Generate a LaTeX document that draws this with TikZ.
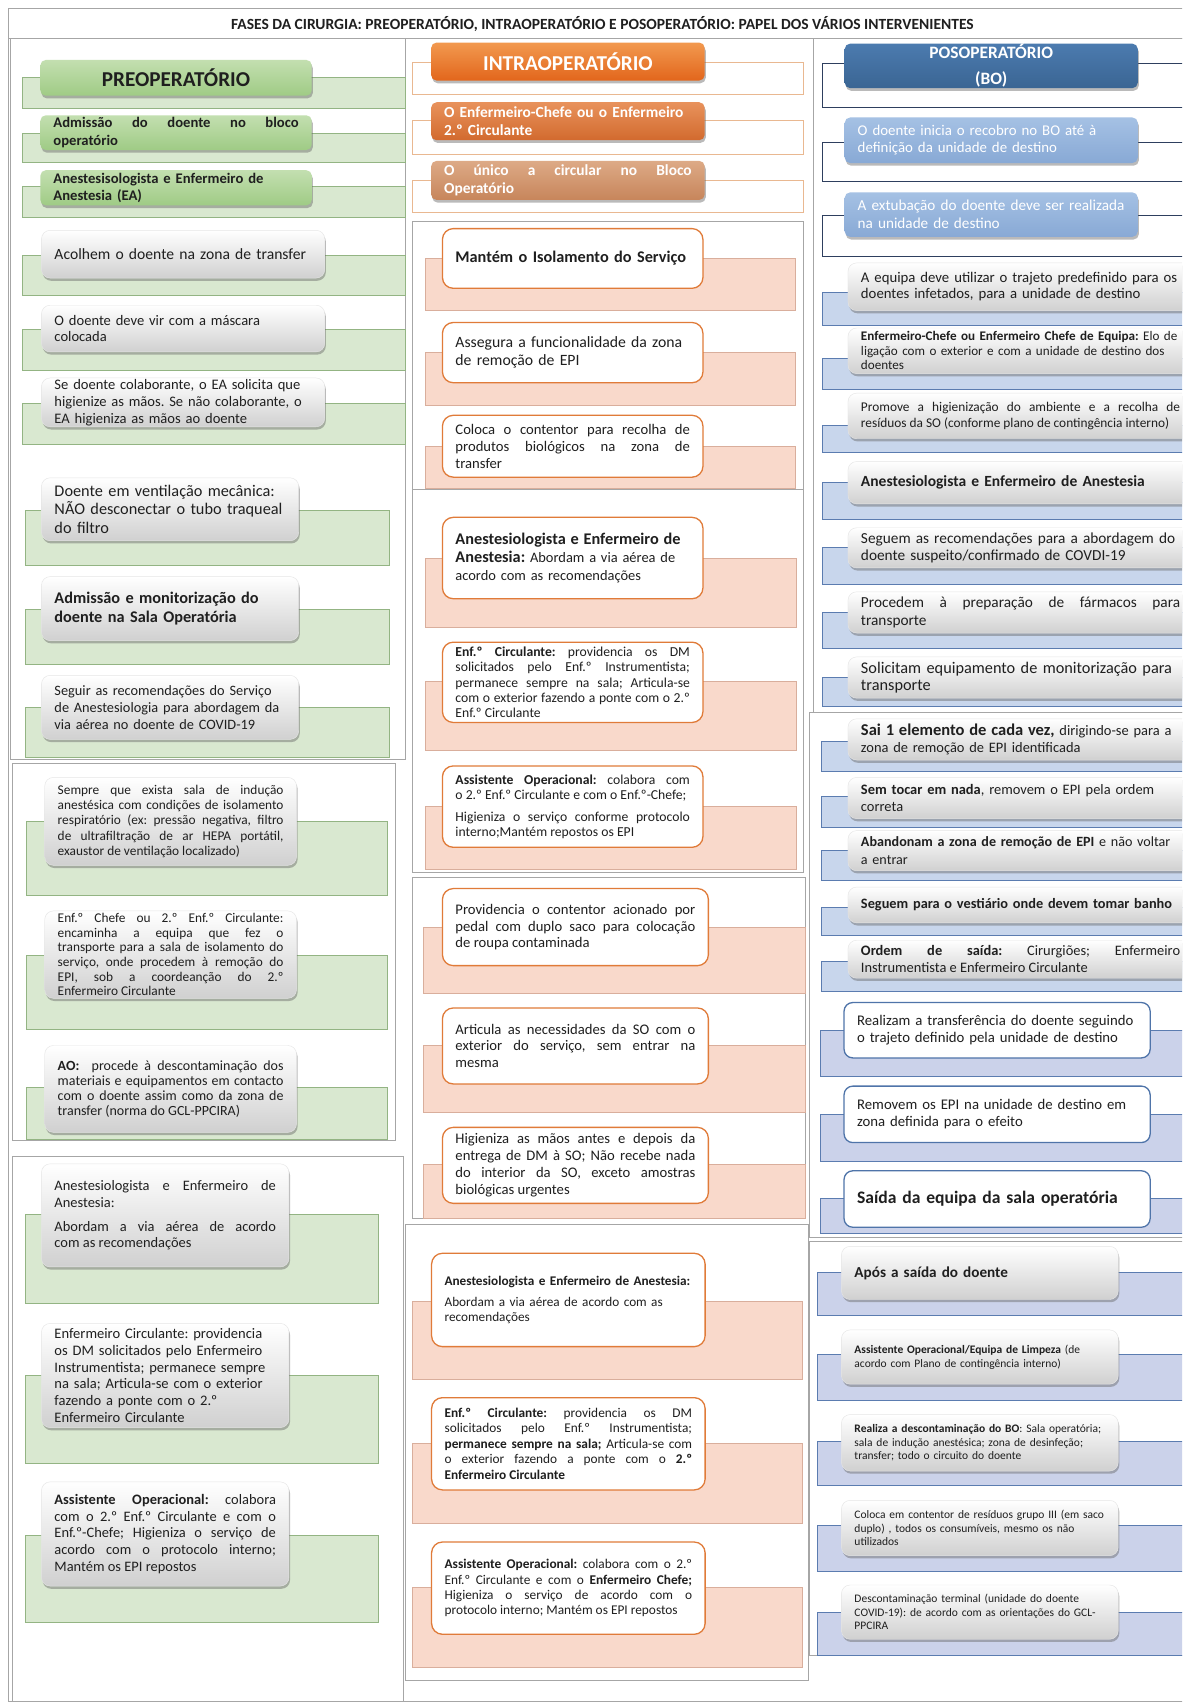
\documentclass[tikz,border=0pt]{standalone}
\usepackage{fontspec}
\setmainfont{Carlito}
\usepackage{tikz}
\usetikzlibrary{shadows}
\definecolor{ink}{HTML}{1F1F1F}
\definecolor{rulegray}{HTML}{A6A6A6}
\definecolor{leaftop}{HTML}{C3DFB0}
\definecolor{leafbot}{HTML}{9FCB85}
\definecolor{leafband}{HTML}{D9E8D0}
\definecolor{leafline}{HTML}{93B483}
\definecolor{softgray}{HTML}{D0D0D0}
\definecolor{embertop}{HTML}{F2994F}
\definecolor{emberbot}{HTML}{E2661C}
\definecolor{rusttop}{HTML}{E8925C}
\definecolor{rustbot}{HTML}{D26A2E}
\definecolor{tantop}{HTML}{DDAA86}
\definecolor{tanbot}{HTML}{C7855B}
\definecolor{peachline}{HTML}{E9B891}
\definecolor{salmon}{HTML}{F9D9CB}
\definecolor{salmonline}{HTML}{D9AE9C}
\definecolor{emberedge}{HTML}{E07B39}
\definecolor{navytop}{HTML}{4C7BAF}
\definecolor{navybot}{HTML}{3A6593}
\definecolor{skytop}{HTML}{A5C1E4}
\definecolor{skybot}{HTML}{88A9D5}
\definecolor{navyline}{HTML}{2E3F5E}
\definecolor{iceband}{HTML}{C8D6EC}
\definecolor{iceline}{HTML}{5B7CB0}
\definecolor{lilac}{HTML}{CBD2EA}
\definecolor{steeledge}{HTML}{4F74A9}
\newcommand{\fsz}[2]{\fontsize{#1}{#2}\selectfont}
% box from (x1,y1) to (x2,y2): name, style, x1, y1, x2, y2, text
\newcommand{\cellbox}[7]{%
  \pgfmathsetmacro{\cbw}{#5-#3-24}%
  \pgfmathsetmacro{\cbh}{#6-#4}%
  \node[#2, text width=\cbw pt, minimum height=\cbh pt] (#1) at (#3,#4) {#7};}
\tolerance=10000
\hyphenpenalty=10000
\exhyphenpenalty=10000
\hbadness=10000
\frenchspacing
\begin{document}
\begin{tikzpicture}[x=1pt, y=-1pt,
  framed/.style={draw=rulegray, line width=0.7pt},
  leafrect/.style={fill=leafband, draw=leafline, line width=0.6pt},
  peachrect/.style={fill=white, draw=peachline, line width=0.6pt},
  salmonrect/.style={fill=salmon, draw=salmonline, line width=0.6pt},
  navyrect/.style={fill=white, draw=navyline, line width=0.6pt},
  icerect/.style={fill=iceband, draw=iceline, line width=0.6pt},
  lilacrect/.style={fill=lilac, draw=iceline, line width=0.6pt},
  cellbase/.style={anchor=north west, inner xsep=12pt, inner ysep=1pt, align=left, text=ink},
  lift/.style={drop shadow={shadow xshift=1pt, shadow yshift=-2.5pt, opacity=0.45, fill=black!60}},
  leafhead/.style={cellbase, lift, rounded corners=5pt, top color=leaftop, bottom color=leafbot},
  softbox/.style={cellbase, lift, rounded corners=8pt, draw=black!10, top color=white, bottom color=softgray},
  emberhead/.style={cellbase, lift, rounded corners=5pt, text=white, top color=embertop, bottom color=emberbot},
  rusthead/.style={cellbase, lift, rounded corners=5pt, text=white, top color=rusttop, bottom color=rustbot},
  tanhead/.style={cellbase, lift, rounded corners=5pt, text=white, top color=tantop, bottom color=tanbot},
  ovalbox/.style={cellbase, rounded corners=10pt, fill=white, draw=emberedge, line width=1.2pt},
  navyhead/.style={cellbase, lift, rounded corners=5pt, text=white, top color=navytop, bottom color=navybot},
  skyhead/.style={cellbase, lift, rounded corners=5pt, text=white, top color=skytop, bottom color=skybot},
  steelbox/.style={cellbase, rounded corners=8pt, fill=white, draw=steeledge, line width=1.2pt},
  title/.style={font=\fsz{14.3}{16}\bfseries, text=ink}]

  \useasboundingbox (0,0) rectangle (1089,1568);
  \clip (0,0) rectangle (1089,1568);
  \fill[white] (0,0) rectangle (1089,1568);

  % outer frame and title
  \draw[framed] (7.5,8) rectangle (1100,1567);
  \draw[framed] (7.5,35) -- (1100,35);
  \node[title] (title) at (555,22) {FASES DA CIRURGIA: PREOPERATÓRIO, INTRAOPERATÓRIO E POSOPERATÓRIO: PAPEL DOS VÁRIOS INTERVENIENTES};

  % column frames
  \draw[framed] (10,35) rectangle (373,700);
  \draw[framed] (11,703) rectangle (364,1051);
  \draw[framed] (11,1065) rectangle (372,1580);
  \draw[framed] (380,204) rectangle (740,450.5);
  \draw[framed] (380,451) rectangle (740,804);
  \draw[framed] (380,808) rectangle (742,1122.5);
  \draw[framed] (373,1128) rectangle (745,1548);
  \draw[framed] (749,35) rectangle (1100,656);
  \draw[framed] (746,656) rectangle (1100,1140);
  \draw[framed] (746,1144) rectangle (1100,1525);

  % preoperatório
  \path[leafrect] (21,71.5) rectangle (373,100);
  \cellbox{preHead}{leafhead, align=center, font=\fsz{19.5}{22}\bfseries}{37}{55}{287}{88}{PREOPERATÓRIO}
  \path[leafrect] (21,122.7) rectangle (373,150);
  \cellbox{preAdm}{leafhead, align=justify, font=\fsz{13.5}{16}\bfseries}{37}{106}{287}{138}{Admissão do doente no bloco\linebreak operatório}
  \path[leafrect] (21,172) rectangle (373,200);
  \cellbox{preTeam}{leafhead, font=\fsz{13.5}{16}\bfseries}{37}{156.6}{287}{189}{Anestesisologista e Enfermeiro de\\ Anestesia (EA)}
  \path[leafrect] (21,235) rectangle (373,272);
  \cellbox{preWelcome}{softbox, font=\fsz{14.4}{17}}{38}{212}{299}{256}{Acolhem o doente na zona de transfer}
  \path[leafrect] (21,303) rectangle (373,341);
  \cellbox{preMask}{softbox, font=\fsz{13.4}{15.5}}{38}{281}{299}{324}{O doente deve vir com a máscara\\ colocada}
  \path[leafrect] (21,372) rectangle (373,409);
  \cellbox{preHands}{softbox, font=\fsz{13.4}{15.5}}{38}{348}{299}{393}{Se doente colaborante, o EA solicita que\\ higienize as mãos. Se não colaborante, o\\ EA higieniza as mãos ao doente}
  \path[leafrect] (23,470.5) rectangle (359,520.6);
  \cellbox{preVent}{softbox, font=\fsz{15}{17}}{38}{440}{275}{498}{Doente em ventilação mecânica:\\ NÃO desconectar o tubo traqueal\\ do filtro}
  \path[leafrect] (23,561) rectangle (359,611.7);
  \cellbox{preRoom}{softbox, font=\fsz{15}{18}\bfseries}{38}{531}{275}{590}{Admissão e monitorização do\\ doente na Sala Operatória}
  \path[leafrect] (23,652) rectangle (359,698);
  \cellbox{preAirway}{softbox, font=\fsz{13.2}{15.5}}{38}{622}{275}{681}{Seguir as recomendações do Serviço\\ de Anestesiologia para abordagem da\\ via aérea no doente de COVID-19}

  \path[leafrect] (24.5,757) rectangle (357,824.6);
  \cellbox{preInduct}{softbox, align=justify, font=\fsz{12.3}{14}}{41}{716}{273}{797}{Sempre que exista sala de indução\linebreak anestésica com condições de isolamento\linebreak respiratório (ex: pressão negativa, filtro\linebreak de ultrafiltração de ar HEPA portátil,\linebreak exaustor de ventilação localizado)}
  \path[leafrect] (24.5,880) rectangle (357,948);
  \cellbox{preChief}{softbox, align=justify, font=\fsz{12.3}{13.4}}{41}{839}{273}{919.5}{Enf.º Chefe ou 2.º Enf.º Circulante:\linebreak encaminha a equipa que fez o\linebreak transporte para a sala de isolamento do\linebreak serviço, onde procedem à remoção do\linebreak EPI, sob a coordeanção do 2.º\linebreak Enfermeiro Circulante}
  \path[leafrect] (24.5,1002) rectangle (357,1050);
  \cellbox{preAO}{softbox, align=justify, font=\fsz{12.9}{13.8}}{41}{963}{273}{1043}{\textbf{AO:}\ \ procede à descontaminação dos\linebreak materiais e equipamentos em contacto\linebreak com o doente assim como da zona de\linebreak transfer (norma do GCL-PPCIRA)}

  \path[leafrect] (23,1119) rectangle (348.6,1201);
  \cellbox{preAnest}{softbox, align=justify, font=\fsz{13.3}{15}}{38}{1072}{266}{1167}{Anestesiologista e Enfermeiro de\linebreak Anestesia:\\[7pt] Abordam a via aérea de acordo\linebreak com as recomendações}
  \path[leafrect] (23,1267) rectangle (348.6,1348);
  \cellbox{preCirc}{softbox, font=\fsz{13.4}{15.4}}{38}{1219}{266}{1315}{Enfermeiro Circulante: providencia\\ os DM solicitados pelo Enfermeiro\\ Instrumentista; permanece sempre\\ na sala; Articula-se com o exterior\\ fazendo a ponte com o 2.º\\ Enfermeiro Circulante}
  \path[leafrect] (23,1414) rectangle (348.6,1495);
  \cellbox{preAssist}{softbox, align=justify, font=\fsz{13.3}{15.3}}{38}{1365}{266}{1461}{\textbf{Assistente Operacional:} colabora\linebreak com o 2.º Enf.º Circulante e com o\linebreak Enf.º-Chefe; Higieniza o serviço de\linebreak acordo com o protocolo interno;\linebreak Mantém os EPI repostos}

  % intraoperatório
  \path[peachrect] (380,57) rectangle (740,87);
  \cellbox{intraHead}{emberhead, align=center, font=\fsz{19.5}{22}\bfseries}{397}{39}{649}{74}{INTRAOPERATÓRIO}
  \path[peachrect] (380,110.5) rectangle (740,142);
  \cellbox{intraChief}{rusthead, font=\fsz{14.2}{17}\bfseries}{397}{94}{649}{129}{O Enfermeiro-Chefe ou o Enfermeiro\\ 2.º Circulante}
  \path[peachrect] (380,166) rectangle (740,196);
  \cellbox{intraOnly}{tanhead, align=justify, font=\fsz{14.2}{17}\bfseries}{397}{148}{649}{184}{O único a circular no Bloco\linebreak Operatório}

  \path[salmonrect] (391.5,238) rectangle (733,285.6);
  \cellbox{intraIsol}{ovalbox, font=\fsz{15}{18}\bfseries}{407}{210}{647}{265}{Mantém o Isolamento do Serviço}
  \path[salmonrect] (391.5,325) rectangle (733,373);
  \cellbox{intraZone}{ovalbox, font=\fsz{14.5}{17}}{407}{296.5}{647}{352}{Assegura a funcionalidade da zona\\ de remoção de EPI}
  \path[salmonrect] (391.5,411) rectangle (733,450);
  \cellbox{intraBin}{ovalbox, align=justify, font=\fsz{13.5}{15.5}}{407}{382}{647}{439}{Coloca o contentor para recolha de\linebreak produtos biológicos na zona de\linebreak transfer}

  \path[salmonrect] (391.5,514) rectangle (734,577.5);
  \cellbox{intraAnest}{ovalbox, font=\fsz{13.3}{17}}{407}{476}{647}{551}{{\fsz{15}{17}\bfseries Anestesiologista e Enfermeiro de}\\ {\fsz{15}{17}\bfseries Anestesia:} Abordam a via aérea de\\ acordo com as recomendações}
  \path[salmonrect] (391.5,628) rectangle (734,691);
  \cellbox{intraCirc}{ovalbox, align=justify, font=\fsz{12.6}{14}}{407}{591}{647}{665}{\textbf{Enf.º Circulante:} providencia os DM\linebreak solicitados pelo Enf.º Instrumentista;\linebreak permanece sempre na sala; Articula-se\linebreak com o exterior fazendo a ponte com o 2.º\linebreak Enf.º Circulante}
  \path[salmonrect] (391.5,742.6) rectangle (734,801);
  \cellbox{intraAssist}{ovalbox, align=justify, font=\fsz{12.6}{14}}{407}{705}{647}{780}{\textbf{Assistente Operacional:} colabora com\linebreak o 2.º Enf.º Circulante e com o Enf.º-Chefe;\\[6pt] Higieniza o serviço conforme protocolo\linebreak interno;Mantém repostos os EPI}

  \path[salmonrect] (390,854) rectangle (742,915);
  \cellbox{intraPedal}{ovalbox, align=justify, font=\fsz{13.5}{15.5}}{407}{818}{652}{889}{Providencia o contentor acionado por\linebreak pedal com duplo saco para colocação\linebreak de roupa contaminada}
  \path[salmonrect] (390,963) rectangle (742,1024.5);
  \cellbox{intraLink}{ovalbox, align=justify, font=\fsz{13.5}{15.5}}{407}{928}{652}{998}{Articula as necessidades da SO com o\linebreak exterior do serviço, sem entrar na\linebreak mesma}
  \path[salmonrect] (390,1073) rectangle (742,1122);
  \cellbox{intraWash}{ovalbox, align=justify, font=\fsz{13.5}{15.7}}{407}{1038}{652}{1108}{Higieniza as mãos antes e depois da\linebreak entrega de DM à SO; Não recebe nada\linebreak do interior da SO, exceto amostras\linebreak biológicas urgentes}

  \path[salmonrect] (380,1198.6) rectangle (739,1270.5);
  \cellbox{intraAnestB}{ovalbox, font=\fsz{12.2}{14}}{397}{1154}{649}{1240}{\textbf{Anestesiologista e Enfermeiro de Anestesia:}\\[6pt] Abordam a via aérea de acordo com as\\ recomendações}
  \path[salmonrect] (380,1330) rectangle (739,1403);
  \cellbox{intraCircB}{ovalbox, align=justify, font=\fsz{12.3}{14.3}}{397}{1287}{649}{1372}{\textbf{Enf.º Circulante:} providencia os DM\linebreak solicitados pelo Enf.º Instrumentista;\linebreak \textbf{permanece sempre na sala;} Articula-se com\linebreak o exterior fazendo a ponte com o \textbf{2.º}\linebreak \textbf{Enfermeiro Circulante}}
  \path[salmonrect] (380,1462) rectangle (739,1536);
  \cellbox{intraAssistB}{ovalbox, align=justify, font=\fsz{12.3}{14}}{397}{1420}{649}{1505}{\textbf{Assistente Operacional:} colabora com o 2.º\linebreak Enf.º Circulante e com o \textbf{Enfermeiro Chefe;}\linebreak Higieniza o serviço de acordo com o\linebreak protocolo interno; Mantém os EPI repostos}

  % posoperatório
  \path[navyrect] (758,58) rectangle (1100,98.5);
  \cellbox{postHead}{navyhead, align=center, inner ysep=0pt, font=\fsz{16}{24}\bfseries}{778}{40}{1048}{81}{POSOPERATÓRIO\\ (BO)}
  \path[navyrect] (758,131) rectangle (1100,167.5);
  \cellbox{postRecov}{skyhead, font=\fsz{13.7}{15.4}}{778}{108}{1048}{150}{O doente inicia o recobro no BO até à\\ definição da unidade de destino}
  \path[navyrect] (758,198) rectangle (1100,236);
  \cellbox{postExtub}{skyhead, font=\fsz{14}{16.9}}{778}{177}{1048}{218}{A extubação do doente deve ser realizada\\ na unidade de destino}

  \path[icerect] (758,269) rectangle (1100,300);
  \cellbox{postRoute}{softbox, font=\fsz{13.6}{15}}{781}{242}{1099}{286}{A equipa deve utilizar o trajeto predefinido para os\\ doentes infetados, para a unidade de destino}
  \path[icerect] (758,330) rectangle (1100,359);
  \cellbox{postChief}{softbox, font=\fsz{12.1}{13.3}}{781}{302}{1099}{344}{\textbf{Enfermeiro-Chefe ou Enfermeiro Chefe de Equipa:} Elo de\\ ligação com o exterior e com a unidade de destino dos\\ doentes}
  \path[icerect] (758,391.5) rectangle (1100,417);
  \cellbox{postClean}{softbox, align=justify, font=\fsz{12.3}{15.4}}{781}{362}{1099}{404}{Promove a higienização do ambiente e a recolha de\linebreak resíduos da SO (conforme plano de contingência interno)}
  \path[icerect] (758,444) rectangle (1100,478);
  \cellbox{postAnest}{softbox, font=\fsz{14.3}{16}\bfseries}{781}{425}{1099}{464}{Anestesiologista e Enfermeiro de Anestesia}
  \path[icerect] (758,504) rectangle (1100,538);
  \cellbox{postFollow}{softbox, font=\fsz{14.1}{16}}{781}{486}{1099}{523}{Seguem as recomendações para a abordagem do\\ doente suspeito/confirmado de COVDI-19}
  \path[icerect] (758,564) rectangle (1100,597);
  \cellbox{postDrugs}{softbox, align=justify, font=\fsz{14.1}{16}}{781}{545}{1099}{583}{Procedem à preparação de fármacos para\linebreak transporte}
  \path[icerect] (758,624) rectangle (1100,651);
  \cellbox{postMonit}{softbox, font=\fsz{15}{16.3}}{781}{605}{1099}{643}{Solicitam equipamento de monitorização para\\ transporte}

  \path[icerect] (757,683) rectangle (1100,711);
  \cellbox{postOne}{softbox, font=\fsz{13.3}{16.5}}{781}{662}{1099}{700}{{\fsz{15.2}{16.5}\bfseries Sai 1 elemento de cada vez,} dirigindo-se para a\\ zona de remoção de EPI identificada}
  \path[icerect] (757,734) rectangle (1100,762);
  \cellbox{postTouch}{softbox, font=\fsz{13.3}{16}}{781}{716}{1099}{754}{\textbf{Sem tocar em nada}, removem o EPI pela ordem\\ correta}
  \path[icerect] (757,783) rectangle (1100,811);
  \cellbox{postLeave}{softbox, font=\fsz{13}{16}}{781}{765}{1099}{802}{\textbf{Abandonam a zona de remoção de EPI} e não voltar\\ a entrar}
  \path[icerect] (757,835.5) rectangle (1100,862);
  \cellbox{postShower}{softbox, font=\fsz{13.2}{16}\bfseries}{781}{817}{1099}{850}{Seguem para o vestiário onde devem tomar banho}
  \path[icerect] (757,886) rectangle (1100,913);
  \cellbox{postOrder}{softbox, align=justify, font=\fsz{13.3}{15.5}}{781}{866}{1099}{901}{\textbf{Ordem de saída:} Cirurgiões; Enfermeiro\linebreak Instrumentista e Enfermeiro Circulante}

  \path[lilacrect] (756,949) rectangle (1100,992);
  \cellbox{postTransfer}{steelbox, font=\fsz{13.6}{15.4}}{777}{923}{1059}{974}{Realizam a transferência do doente seguindo\\ o trajeto definido pela unidade de destino}
  \path[lilacrect] (756,1027) rectangle (1100,1070);
  \cellbox{postRemove}{steelbox, font=\fsz{13.6}{15.4}}{777}{1000}{1059}{1052}{Removem os EPI na unidade de destino em\\ zona definida para o efeito}
  \path[lilacrect] (756,1104) rectangle (1100,1136);
  \cellbox{postExit}{steelbox, font=\fsz{16.2}{18}\bfseries}{777}{1078}{1059}{1130}{Saída da equipa da sala operatória}

  \path[lilacrect] (753,1172) rectangle (1100,1212);
  \cellbox{postAfter}{softbox, font=\fsz{14}{16}\bfseries}{775}{1148}{1030}{1197}{Após a saída do doente}
  \path[lilacrect] (753,1248) rectangle (1100,1290);
  \cellbox{postStaff}{softbox, font=\fsz{10.6}{13}}{775}{1225}{1030}{1275}{\textbf{Assistente Operacional/Equipa de Limpeza} (de\\ acordo com Plano de contingência interno)}
  \path[lilacrect] (753,1328) rectangle (1100,1368);
  \cellbox{postDecon}{softbox, font=\fsz{10.6}{12.3}}{775}{1303}{1030}{1355}{\textbf{Realiza a descontaminação do BO}: Sala operatória;\\ sala de indução anestésica; zona de desinfeção;\\ transfer; todo o circuito do doente}
  \path[lilacrect] (753,1405) rectangle (1100,1448);
  \cellbox{postWaste}{softbox, font=\fsz{10.6}{12.3}}{775}{1382}{1030}{1433}{Coloca em contentor de resíduos grupo III (em saco\\ duplo) , todos os consumíveis, mesmo os não\\ utilizados}
  \path[lilacrect] (753,1485) rectangle (1100,1525);
  \cellbox{postTerminal}{softbox, font=\fsz{10.6}{12.3}}{775}{1460}{1030}{1510}{Descontaminação terminal (unidade do doente\\ COVID-19): de acordo com as orientações do GCL-\\ PPCIRA}
\end{tikzpicture}
\end{document}
